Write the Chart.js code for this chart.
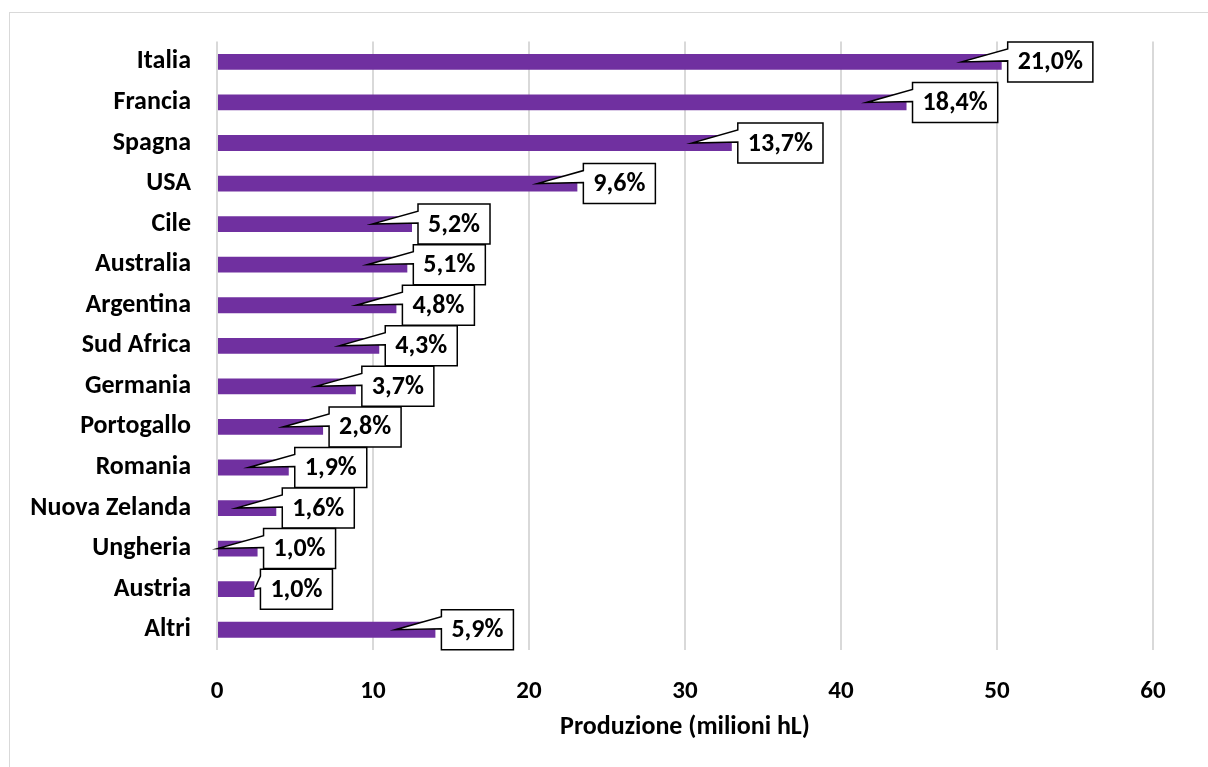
<!DOCTYPE html>
<html>
<head>
<meta charset="utf-8">
<script src="https://cdn.jsdelivr.net/npm/chart.js@4"></script>
<style>
  body { margin: 0; background: #fff; }
  #wrap { position: absolute; left: 0; top: 0; width: 1208px; height: 767px; }
  #frame { position: absolute; left: 9px; top: 12px; width: 1220px; height: 780px; border: 1px solid #d9d9d9; }
</style>
</head>
<body>
<div id="frame"></div>
<div id="wrap"><canvas id="chart_1" width="1208" height="767"></canvas></div>
<script>
// data
const paesi = ['Italia', 'Francia', 'Spagna', 'USA', 'Cile', 'Australia', 'Argentina', 'Sud Africa',
  'Germania', 'Portogallo', 'Romania', 'Nuova Zelanda', 'Ungheria', 'Austria', 'Altri']
const produzione = [50.3, 44.2, 33.0, 23.1, 12.5, 12.2, 11.5, 10.4, 8.9, 6.8, 4.6, 3.8, 2.6, 2.4, 14.0]
const quote = ['21,0%', '18,4%', '13,7%', '9,6%', '5,2%', '5,1%', '4,8%', '4,3%', '3,7%', '2,8%',
  '1,9%', '1,6%', '1,0%', '1,0%', '5,9%']
const xTicks = [0, 10, 20, 30, 40, 50, 60]

const FONT = "Carlito, 'Open Sans', sans-serif"

// callout boxes with a wedge pointing back into the bar
const callouts = {
  id: 'callouts',
  afterDatasetsDraw(chart) {
    let ctx = chart.ctx
    let meta = chart.getDatasetMeta(0)
    ctx.save()
    ctx.font = 'bold 26px ' + FONT
    meta.data.forEach(function (bar, i) {
      let txt = quote[i]
      let w = ctx.measureText(txt).width + 20
      let h = 40
      let L = bar.x + 6
      let T = bar.y - h / 2
      let tipX = bar.x - 40
      if (tipX < chart.chartArea.left - 1) tipX = bar.x
      let tipY = bar.y
      ctx.beginPath()
      ctx.moveTo(L, T)
      ctx.lineTo(L + w, T)
      ctx.lineTo(L + w, T + h)
      ctx.lineTo(L, T + h)
      ctx.lineTo(L, T + 19)
      ctx.lineTo(tipX, tipY)
      ctx.lineTo(L, T + 7)
      ctx.closePath()
      ctx.fillStyle = '#fff'
      ctx.fill()
      ctx.lineWidth = 1.5
      ctx.strokeStyle = '#000'
      ctx.stroke()
      ctx.fillStyle = '#000'
      ctx.textAlign = 'center'
      ctx.textBaseline = 'middle'
      ctx.fillText(txt, L + w / 2, T + h / 2 + 1)
    })
    ctx.restore()
  }
}

let ctx1 = document.getElementById('chart_1').getContext('2d')
let chart1 = new Chart(ctx1, {
  type: 'bar',
  data: {
    labels: paesi,
    datasets: [{
      label: 'Produzione',
      data: produzione,
      backgroundColor: '#7030a0',
      categoryPercentage: 1,
      barPercentage: 0.39
    }]
  },
  options: {
    indexAxis: 'y',
    responsive: false,
    animation: false,
    layout: { padding: { top: 41, right: 55, bottom: 20, left: 0 } },
    plugins: { legend: { display: false }, tooltip: { enabled: false } },
    scales: {
      x: {
        min: 0,
        max: 60,
        afterBuildTicks: function (axis) { axis.ticks = xTicks.map(v => ({ value: v })) },
        afterFit: function (axis) { axis.height = 97 },
        border: { display: false },
        grid: { color: '#d9d9d9', lineWidth: 2, drawTicks: false },
        ticks: { color: '#000', padding: 27, font: { family: FONT, size: 25, weight: 'bold' } },
        title: {
          display: true,
          text: 'Produzione (milioni hL)',
          color: '#000',
          padding: { top: 6, bottom: 4 },
          font: { family: FONT, size: 26, weight: 'bold' }
        }
      },
      y: {
        afterFit: function (axis) { axis.width = 217 },
        border: { display: false },
        grid: { display: false, drawTicks: false },
        ticks: { color: '#000', padding: 26, font: { family: FONT, size: 26, weight: 'bold' } }
      }
    }
  },
  plugins: [callouts]
})
</script>
</body>
</html>
